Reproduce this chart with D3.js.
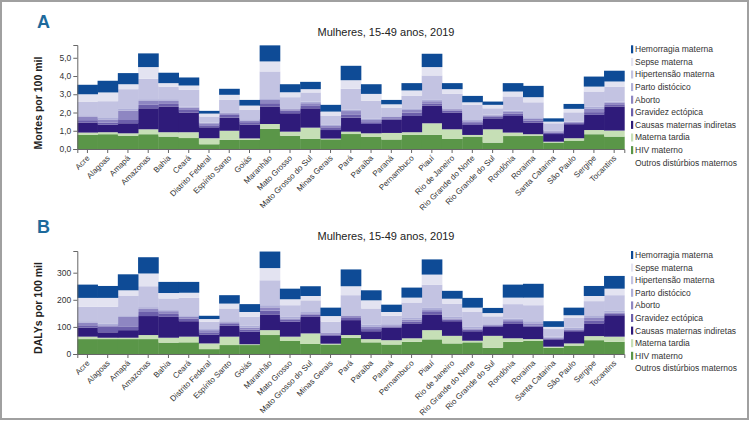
<!DOCTYPE html>
<html><head><meta charset="utf-8">
<script src="https://cdn.jsdelivr.net/npm/d3@7"></script>
<style>
body{margin:0;background:#fff;}
svg text{font-family:"Liberation Sans Narrow","Arial Narrow","Liberation Sans",Arial,sans-serif;}
</style></head>
<body><svg id="c" width="750" height="421"></svg>
<script>
const states = ["Acre","Alagoas","Amapá","Amazonas","Bahia","Ceará","Distrito Federal","Espírito Santo","Goiás","Maranhão","Mato Grosso","Mato Grosso do Sul","Minas Gerais","Pará","Paraíba","Paraná","Pernambuco","Piauí","Rio de Janeiro","Rio Grande do Norte","Rio Grande do Sul","Rondônia","Roraima","Santa Catarina","São Paulo","Sergipe","Tocantins"];

const seriesNames = ["HIV materno","Materna tardia","Causas maternas indiretas","Gravidez ectópica","Aborto","Parto distócico","Hipertensão materna","Sepse materna","Hemorragia materna"];
const legendLabels = ["Hemorragia materna","Sepse materna","Hipertensão materna","Parto distócico","Aborto","Gravidez ectópica","Causas maternas indiretas","Materna tardia","HIV materno","Outros distúrbios maternos"];
const colors = ["#5a9648","#c6dfb6","#2f1b7a","#6c5fab","#8e86c2","#aeaed8","#c3c3e2","#e3e3f1","#0e4b96"];

// Panel A: deaths per 100k
const deathsHIV       = [0.77,0.81,0.73,0.81,0.68,0.60,0.26,0.51,0.50,1.10,0.73,0.55,0.53,0.82,0.66,0.52,0.77,0.77,0.55,0.68,0.35,0.71,0.73,0.35,0.46,0.81,0.68];
const deathsTardia    = [0.13,0.11,0.13,0.27,0.24,0.32,0.33,0.49,0.08,0.27,0.22,0.62,0.04,0.13,0.20,0.36,0.15,0.64,0.53,0.09,0.73,0.19,0.08,0.05,0.13,0.23,0.33];
const deathsIndiretas = [0.55,0.41,0.55,1.15,1.41,1.08,0.60,0.72,0.76,0.96,1.01,1.06,0.47,0.77,0.51,0.72,0.89,0.97,0.92,0.55,0.60,0.91,0.64,0.42,0.77,0.83,1.32];
const deathsEctopica  = [0.13,0.12,0.18,0.19,0.14,0.14,0.11,0.15,0.13,0.18,0.15,0.13,0.15,0.18,0.10,0.08,0.19,0.12,0.10,0.10,0.08,0.12,0.10,0.08,0.06,0.15,0.12];
const deathsAborto    = [0.20,0.17,0.51,0.24,0.17,0.13,0.11,0.09,0.09,0.18,0.07,0.15,0.07,0.18,0.12,0.08,0.14,0.12,0.08,0.10,0.08,0.10,0.10,0.07,0.05,0.18,0.10];
const deathsParto     = [0.07,0.08,0.13,0.07,0.09,0.06,0.04,0.05,0.07,0.09,0.05,0.09,0.06,0.07,0.06,0.04,0.09,0.07,0.05,0.07,0.05,0.07,0.09,0.05,0.03,0.13,0.05];
const deathsHipert    = [0.75,0.92,1.05,1.12,0.69,0.91,0.33,0.68,0.51,1.47,0.61,0.50,0.49,1.15,0.99,0.45,0.68,1.34,0.79,0.83,0.34,0.78,0.82,0.39,0.51,0.82,0.82];
const deathsSepse     = [0.40,0.48,0.27,0.64,0.19,0.24,0.16,0.28,0.24,0.55,0.27,0.18,0.24,0.47,0.38,0.20,0.30,0.46,0.26,0.14,0.19,0.27,0.28,0.09,0.19,0.27,0.28];
const deathsHemorr    = [0.52,0.64,0.61,0.75,0.57,0.44,0.15,0.33,0.31,0.88,0.44,0.40,0.37,0.79,0.53,0.24,0.40,0.73,0.33,0.35,0.18,0.46,0.62,0.18,0.27,0.55,0.59];

// Panel B: DALYs per 100k
const dalysHIV       = [55,55,55,55,42,43,18,33,33,70,48,37,35,60,43,35,45,54,39,43,23,45,49,23,31,51,45];
const dalysTardia    = [9,5,5,15,18,21,21,31,3,18,16,39,3,10,12,16,13,34,28,6,44,13,6,4,8,15,19];
const dalysIndiretas = [33,20,28,70,77,57,33,40,46,58,55,61,29,55,29,46,55,58,54,35,33,55,45,27,45,47,79];
const dalysEctopica  = [9,20,12,15,13,9,8,7,8,14,7,8,5,8,8,4,7,9,6,6,4,8,4,2,4,11,7];
const dalysAborto    = [10,6,37,13,8,7,8,6,7,12,5,5,5,7,8,5,7,7,4,4,3,4,9,4,3,9,2];
const dalysParto     = [5,7,6,5,4,6,4,4,7,8,6,5,3,3,9,4,6,8,6,6,3,6,8,4,6,10,7];
const dalysHipert    = [53,61,71,77,43,64,27,47,33,92,43,43,39,74,59,31,57,86,49,55,29,53,59,28,36,52,58];
const dalysSepse     = [33,33,21,47,20,19,10,18,18,45,22,16,21,33,30,14,18,37,18,16,12,24,28,8,10,19,24];
const dalysHemorr    = [49,44,59,60,41,40,12,31,29,61,39,36,31,62,37,27,37,56,29,36,19,48,51,21,28,37,47];

const yTicksA = [0,1,2,3,4,5];
const yTicksB = [0,100,200,300];

const svg = d3.select("#c");
svg.append("rect").attr("x",1).attr("y",1).attr("width",747).attr("height",418)
  .attr("fill","#fff").attr("stroke","#a0a0a0").attr("stroke-width",2);

function panel(opt){
  const g = svg.append("g");
  const x = d3.scaleBand().domain(states).range([77.3, 624.3]).padding(0);
  const y = d3.scaleLinear().domain([0, opt.max]).range([opt.y0, opt.y1]);
  const rows = states.map((s,i)=>{
    const r = {state:s};
    seriesNames.forEach((n,k)=>{ r[n] = opt.series[k][i]; });
    return r;
  });
  const stacked = d3.stack().keys(seriesNames)(rows);
  g.selectAll("g.layer").data(stacked).join("g").attr("class","layer")
    .attr("fill",(d,i)=>colors[i])
    .selectAll("rect").data(d=>d).join("rect")
    .attr("x",d=>x(d.data.state)).attr("width",x.bandwidth()+0.4)
    .attr("y",d=>y(d[1])).attr("height",d=>Math.max(0,y(d[0])-y(d[1])));

  // y axis
  const ya = g.append("g").attr("transform","translate(77.3,0)")
    .call(d3.axisLeft(y).tickValues(opt.ticks).tickSize(4).tickSizeOuter(4).tickFormat(opt.fmt));
  ya.select(".domain").attr("stroke","#666");
  ya.selectAll(".tick line").attr("stroke","#666");
  ya.selectAll("text").attr("fill","#333").style("font-size","8.5px").attr("x",-6);

  // x axis
  const xa = g.append("g").attr("transform",`translate(0,${opt.y0})`)
    .call(d3.axisBottom(x).tickSize(4).tickSizeOuter(4));
  xa.select(".domain").attr("stroke","#666");
  xa.selectAll(".tick line").attr("stroke","#666");
  xa.selectAll("text").attr("fill","#333").style("font-size","8px")
    .attr("text-anchor","end").attr("dy","0.3em").attr("y",0)
    .attr("transform","translate(1,8) rotate(-45)");

  // titles
  g.append("text").attr("x",37).attr("y",opt.y0-121).text(opt.letter)
    .attr("fill","#1d6a9c").style("font-size","18px").style("font-weight","bold")
    .style("font-family","Liberation Sans, Arial, sans-serif");
  g.append("text").attr("x",386).attr("y",opt.titleY).attr("text-anchor","middle")
    .text("Mulheres, 15-49 anos, 2019").attr("fill","#222").style("font-size","11px");
  g.append("text").attr("transform",`translate(42,${opt.labelY}) rotate(-90)`)
    .attr("text-anchor","middle").text(opt.ylabel).attr("fill","#222")
    .style("font-size","10.5px").style("font-weight","bold");

  // legend
  const lg = g.append("g");
  legendLabels.forEach((lab,i)=>{
    const cy = opt.legendY + i*12.6;
    const ci = seriesNames.indexOf(lab);
    if(ci>=0){
      lg.append("rect").attr("x",631).attr("y",cy-4).attr("width",2.2).attr("height",8)
        .attr("fill",colors[ci]);
    }
    lg.append("text").attr("x",635).attr("y",cy).attr("dy","0.35em").text(lab)
      .attr("fill","#333").style("font-size","8.5px");
  });
}

const fmtA = d=>d3.format(".1f")(d).replace(".",",");
panel({letter:"A", y0:149, y1:45, max:5.7, ticks:yTicksA, fmt:fmtA, titleY:36, labelY:103,
  ylabel:"Mortes por 100 mil", legendY:49.3,
  series:[deathsHIV,deathsTardia,deathsIndiretas,deathsEctopica,deathsAborto,deathsParto,deathsHipert,deathsSepse,deathsHemorr]});
panel({letter:"B", y0:354, y1:251, max:380, ticks:yTicksB, fmt:d3.format("d"), titleY:240, labelY:308,
  ylabel:"DALYs por 100 mil", legendY:255,
  series:[dalysHIV,dalysTardia,dalysIndiretas,dalysEctopica,dalysAborto,dalysParto,dalysHipert,dalysSepse,dalysHemorr]});
</script></body></html>
